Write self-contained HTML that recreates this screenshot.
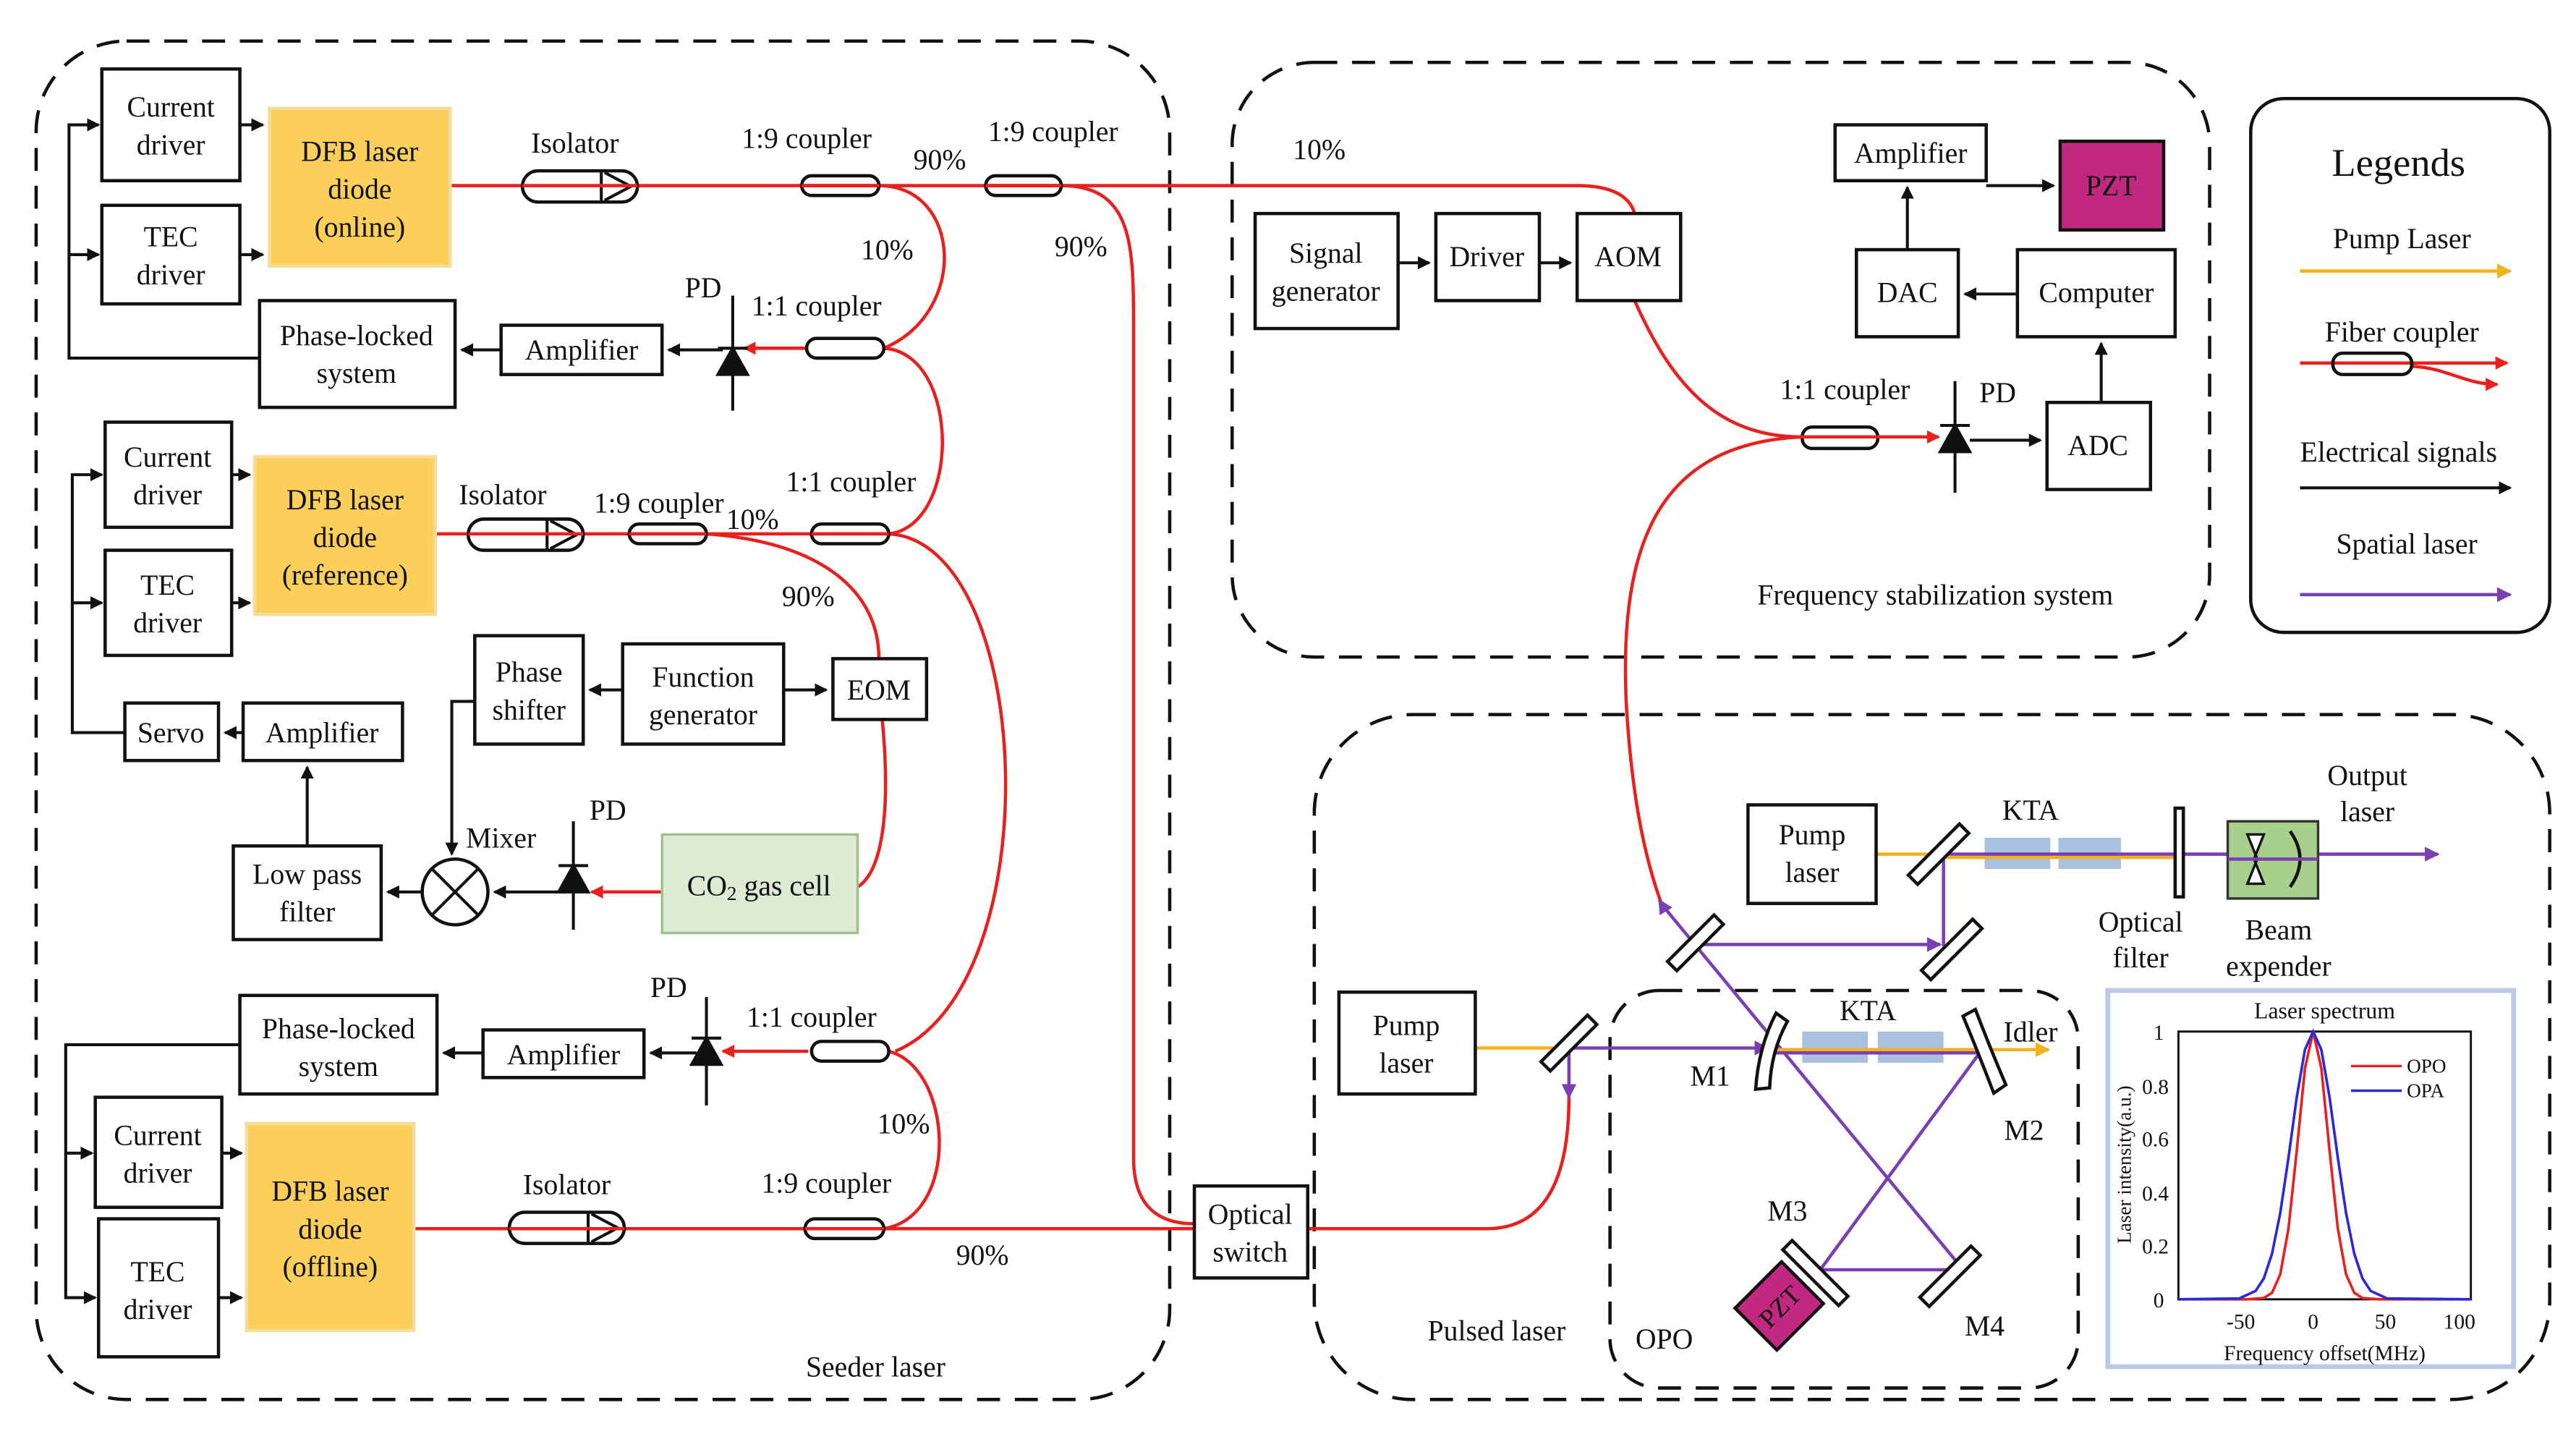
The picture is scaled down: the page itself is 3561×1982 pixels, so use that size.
<!DOCTYPE html>
<html><head><meta charset="utf-8"><style>
html,body{margin:0;padding:0;background:#fff}
svg{display:block}
text{font-family:"Liberation Serif",serif;font-size:17.5px;fill:#111}
.b{fill:#fff;stroke:#111;stroke-width:2}
.d{fill:none;stroke:#111;stroke-width:2;stroke-dasharray:14 9}
.r{fill:none;stroke:#e8211f;stroke-width:2}
.k{fill:none;stroke:#111;stroke-width:1.8}
.p{fill:none;stroke:#7a3fb0;stroke-width:2}
.y{fill:none;stroke:#f2b21b;stroke-width:2}
.cp{fill:#fff;stroke:#111;stroke-width:2}
.m{fill:#fff;stroke:#111;stroke-width:2}
.kta{fill:#a9c0de}
</style></head><body>
<svg width="3561" height="1982" viewBox="0 0 1568 873" preserveAspectRatio="none" xmlns="http://www.w3.org/2000/svg">
<defs>
<marker id="ak" markerWidth="8" markerHeight="8" refX="7" refY="4" orient="auto" markerUnits="userSpaceOnUse"><path d="M0,0 L8,4 L0,8z" fill="#111"/></marker>
<marker id="ar" markerWidth="8" markerHeight="8" refX="7" refY="4" orient="auto" markerUnits="userSpaceOnUse"><path d="M0,0 L8,4 L0,8z" fill="#e8211f"/></marker>
<marker id="ap" markerWidth="9" markerHeight="9" refX="8" refY="4.5" orient="auto" markerUnits="userSpaceOnUse"><path d="M0,0 L9,4.5 L0,9z" fill="#7a3fb0"/></marker>
<marker id="ay" markerWidth="9" markerHeight="9" refX="8" refY="4.5" orient="auto" markerUnits="userSpaceOnUse"><path d="M0,0 L9,4.5 L0,9z" fill="#f2b21b"/></marker>
</defs>
<rect width="1568" height="873" fill="#fff"/>

<rect class="d" x="22" y="25" width="690" height="827" rx="55"/>
<rect class="d" x="750" y="38" width="595" height="362" rx="50"/>
<rect class="d" x="800" y="435" width="752" height="417" rx="60"/>
<rect class="d" x="980" y="603" width="285" height="242" rx="30"/>
<rect x="1370" y="60" width="182" height="325" rx="20" fill="#fff" stroke="#111" stroke-width="2"/>

<path class="r" d="M274 113 H960 Q990 113 995 130"/>
<path class="r" d="M535 113 C585 113 590 190 538 212"/>
<path class="r" d="M538 212 C585 215 585 320 541 325"/>
<path class="r" d="M646 113 C690 113 690 150 690 200 V705 Q690 745 727 745"/>
<path class="r" d="M265 325 H541"/>
<path class="r" d="M430 325 C500 330 535 360 535 401"/>
<path class="r" d="M537 438 C542 490 538 530 522 540"/>
<path class="r" d="M541 325 C630 330 640 600 545 640"/>
<path class="r" d="M538 748 C585 740 580 650 541 640"/>
<path class="r" d="M252 748 H727"/>
<path class="r" d="M492 212 H453" marker-end="url(#ar)"/>
<path class="r" d="M492 640 H440" marker-end="url(#ar)"/>
<path class="r" d="M403 543 H360" marker-end="url(#ar)"/>
<path class="r" d="M796 748 H905 Q955 748 955 668"/>

<g>
<rect class="cp" x="318" y="104" width="70" height="19" rx="9.5" fill="none"/><path d="M366 104 V123 M368 105 L384 113.5 L368 122" class="k"/>
<rect class="cp" x="285" y="316" width="70" height="19" rx="9.5" fill="none"/><path d="M333 316 V335 M335 317 L351 325.5 L335 334" class="k"/>
<rect class="cp" x="310" y="738" width="70" height="19" rx="9.5" fill="none"/><path d="M358 738 V757 M360 739 L376 747.5 L360 756" class="k"/>
</g>
<g fill="none" stroke="#111" stroke-width="2">
<rect x="488" y="107" width="47" height="12" rx="6"/>
<rect x="600" y="107" width="46" height="12" rx="6"/>
<rect x="491" y="206" width="47" height="12" rx="6"/>
<rect x="383" y="319" width="47" height="12" rx="6"/>
<rect x="494" y="319" width="47" height="12" rx="6"/>
<rect x="494" y="634" width="47" height="12" rx="6"/>
<rect x="490" y="742" width="48" height="12" rx="6"/>
<rect x="1097" y="260" width="46" height="13" rx="6"/>
</g>
<path class="r" d="M318 113 H388 M488 113 H535 M600 113 H646 M285 325 H355 M383 325 H430 M494 325 H541 M310 748 H380 M490 748 H538"/>

<g stroke="#111" stroke-width="1.8">
<path d="M446 180 V250 M437 212 H455"/><path d="M437 228 L455 228 L446 212z" fill="#111"/>
<path d="M349 500 V566 M340 527 H358"/><path d="M340 543 L358 543 L349 527z" fill="#111"/>
<path d="M430 607 V673 M421 632 H439"/><path d="M421 648 L439 648 L430 632z" fill="#111"/>
<path d="M1190 232 V300 M1181 259 H1199"/><path d="M1181 275 L1199 275 L1190 259z" fill="#111"/>
</g>

<g>
<rect class="b" x="62" y="42" width="84" height="68"/><text x="104" y="71" text-anchor="middle">Current</text><text x="104" y="94" text-anchor="middle">driver</text>
<rect class="b" x="62" y="125" width="84" height="60"/><text x="104" y="150" text-anchor="middle">TEC</text><text x="104" y="173" text-anchor="middle">driver</text>
<rect x="164" y="66" width="110" height="96" fill="#fbcf5a" stroke="#f4dc9a" stroke-width="2"/><text x="219" y="98" text-anchor="middle">DFB laser</text><text x="219" y="121" text-anchor="middle">diode</text><text x="219" y="144" text-anchor="middle">(online)</text>
<rect class="b" x="158" y="183" width="119" height="65"/><text x="217" y="210" text-anchor="middle">Phase-locked</text><text x="217" y="233" text-anchor="middle">system</text>
<rect class="b" x="305" y="198" width="98" height="30"/><text x="354" y="219" text-anchor="middle">Amplifier</text>

<rect class="b" x="64" y="257" width="77" height="64"/><text x="102" y="284" text-anchor="middle">Current</text><text x="102" y="307" text-anchor="middle">driver</text>
<rect class="b" x="64" y="335" width="77" height="64"/><text x="102" y="362" text-anchor="middle">TEC</text><text x="102" y="385" text-anchor="middle">driver</text>
<rect x="155" y="278" width="110" height="96" fill="#fbcf5a" stroke="#f4dc9a" stroke-width="2"/><text x="210" y="310" text-anchor="middle">DFB laser</text><text x="210" y="333" text-anchor="middle">diode</text><text x="210" y="356" text-anchor="middle">(reference)</text>
<rect class="b" x="76" y="428" width="57" height="35"/><text x="104" y="452" text-anchor="middle">Servo</text>
<rect class="b" x="148" y="428" width="97" height="35"/><text x="196" y="452" text-anchor="middle">Amplifier</text>
<rect class="b" x="289" y="387" width="66" height="66"/><text x="322" y="415" text-anchor="middle">Phase</text><text x="322" y="438" text-anchor="middle">shifter</text>
<rect class="b" x="379" y="392" width="98" height="61"/><text x="428" y="418" text-anchor="middle">Function</text><text x="428" y="441" text-anchor="middle">generator</text>
<rect class="b" x="507" y="401" width="57" height="37"/><text x="535" y="426" text-anchor="middle">EOM</text>
<rect class="b" x="142" y="515" width="90" height="57"/><text x="187" y="538" text-anchor="middle">Low pass</text><text x="187" y="561" text-anchor="middle">filter</text>
<circle cx="277" cy="543" r="20" class="b"/><path d="M263 529 L291 557 M291 529 L263 557" class="k"/>
<rect x="403" y="508" width="119" height="60" fill="#dcebd3" stroke="#9fc08c" stroke-width="1.5"/><text x="462" y="545" text-anchor="middle">CO<tspan style="font-size:12px" dy="3">2</tspan><tspan dy="-3"> gas cell</tspan></text>

<rect class="b" x="146" y="606" width="120" height="60"/><text x="206" y="632" text-anchor="middle">Phase-locked</text><text x="206" y="655" text-anchor="middle">system</text>
<rect class="b" x="294" y="627" width="98" height="29"/><text x="343" y="648" text-anchor="middle">Amplifier</text>
<rect class="b" x="58" y="668" width="77" height="67"/><text x="96" y="697" text-anchor="middle">Current</text><text x="96" y="720" text-anchor="middle">driver</text>
<rect class="b" x="60" y="742" width="73" height="84"/><text x="96" y="780" text-anchor="middle">TEC</text><text x="96" y="803" text-anchor="middle">driver</text>
<rect x="150" y="684" width="102" height="126" fill="#fbcf5a" stroke="#f4dc9a" stroke-width="2"/><text x="201" y="731" text-anchor="middle">DFB laser</text><text x="201" y="754" text-anchor="middle">diode</text><text x="201" y="777" text-anchor="middle">(offline)</text>
<rect class="b" x="727" y="722" width="69" height="56"/><text x="761" y="745" text-anchor="middle">Optical</text><text x="761" y="768" text-anchor="middle">switch</text>
</g>

<g class="k">
<path d="M146 76 H160" marker-end="url(#ak)"/><path d="M146 155 H160" marker-end="url(#ak)"/>
<path d="M158 218 H42 V76 H60" marker-end="url(#ak)"/><path d="M42 155 H60" marker-end="url(#ak)"/>
<path d="M305 213 H281" marker-end="url(#ak)"/><path d="M440 213 H407" marker-end="url(#ak)"/>
<path d="M141 289 H152" marker-end="url(#ak)"/><path d="M141 367 H152" marker-end="url(#ak)"/>
<path d="M76 446 H44 V289 H62" marker-end="url(#ak)"/><path d="M44 367 H62" marker-end="url(#ak)"/>
<path d="M148 446 H137" marker-end="url(#ak)"/>
<path d="M187 515 V467" marker-end="url(#ak)"/>
<path d="M379 420 H359" marker-end="url(#ak)"/><path d="M477 420 H503" marker-end="url(#ak)"/>
<path d="M289 427 H275 V520" marker-end="url(#ak)"/>
<path d="M344 543 H301" marker-end="url(#ak)"/><path d="M257 543 H236" marker-end="url(#ak)"/>
<path d="M294 641 H270" marker-end="url(#ak)"/><path d="M424 641 H396" marker-end="url(#ak)"/>
<path d="M146 636 H40 V702 H56" marker-end="url(#ak)"/><path d="M40 702 V790 H58" marker-end="url(#ak)"/>
<path d="M135 702 H147" marker-end="url(#ak)"/><path d="M133 790 H147" marker-end="url(#ak)"/>
</g>

<g>
<text x="350" y="93" text-anchor="middle">Isolator</text>
<text x="491" y="90" text-anchor="middle">1:9 coupler</text>
<text x="641" y="86" text-anchor="middle">1:9 coupler</text>
<text x="572" y="103" text-anchor="middle">90%</text>
<text x="540" y="158" text-anchor="middle">10%</text>
<text x="658" y="156" text-anchor="middle">90%</text>
<text x="803" y="97" text-anchor="middle">10%</text>
<text x="428" y="181" text-anchor="middle">PD</text>
<text x="497" y="192" text-anchor="middle">1:1 coupler</text>
<text x="306" y="307" text-anchor="middle">Isolator</text>
<text x="401" y="312" text-anchor="middle">1:9 coupler</text>
<text x="458" y="322" text-anchor="middle">10%</text>
<text x="518" y="299" text-anchor="middle">1:1 coupler</text>
<text x="492" y="369" text-anchor="middle">90%</text>
<text x="305" y="516" text-anchor="middle">Mixer</text>
<text x="370" y="499" text-anchor="middle">PD</text>
<text x="407" y="607" text-anchor="middle">PD</text>
<text x="494" y="625" text-anchor="middle">1:1 coupler</text>
<text x="550" y="690" text-anchor="middle">10%</text>
<text x="345" y="727" text-anchor="middle">Isolator</text>
<text x="503" y="726" text-anchor="middle">1:9 coupler</text>
<text x="598" y="770" text-anchor="middle">90%</text>
<text x="533" y="838" text-anchor="middle">Seeder laser</text>
</g>

<path class="r" d="M995 183 C1020 240 1050 266 1097 266"/>
<path class="r" d="M1097 266 C1010 270 985 330 990 430 C993 480 1000 520 1012 552"/>
<path class="r" d="M1097 266 H1143 M1143 266 H1180" marker-end="url(#ar)"/>
<g>
<rect class="b" x="764" y="130" width="87" height="70"/><text x="807" y="160" text-anchor="middle">Signal</text><text x="807" y="183" text-anchor="middle">generator</text>
<rect class="b" x="874" y="130" width="63" height="53"/><text x="905" y="162" text-anchor="middle">Driver</text>
<rect class="b" x="960" y="130" width="63" height="53"/><text x="991" y="162" text-anchor="middle">AOM</text>
<rect class="b" x="1117" y="76" width="92" height="34"/><text x="1163" y="99" text-anchor="middle">Amplifier</text>
<rect x="1254" y="86" width="63" height="54" fill="#c1287f" stroke="#111" stroke-width="2"/><text x="1285" y="119" text-anchor="middle">PZT</text>
<rect class="b" x="1130" y="152" width="62" height="53"/><text x="1161" y="184" text-anchor="middle">DAC</text>
<rect class="b" x="1228" y="152" width="96" height="53"/><text x="1276" y="184" text-anchor="middle">Computer</text>
<rect class="b" x="1246" y="245" width="63" height="53"/><text x="1277" y="277" text-anchor="middle">ADC</text>
</g>
<g class="k">
<path d="M851 160 H870" marker-end="url(#ak)"/><path d="M937 160 H956" marker-end="url(#ak)"/>
<path d="M1209 113 H1250" marker-end="url(#ak)"/>
<path d="M1161 152 V114" marker-end="url(#ak)"/>
<path d="M1228 179 H1196" marker-end="url(#ak)"/>
<path d="M1279 245 V209" marker-end="url(#ak)"/>
<path d="M1199 268 H1242" marker-end="url(#ak)"/>
</g>
<text x="1123" y="243" text-anchor="middle">1:1 coupler</text>
<text x="1216" y="245" text-anchor="middle">PD</text>
<text x="1178" y="368" text-anchor="middle">Frequency stabilization system</text>

<text x="1460" y="107" text-anchor="middle" style="font-size:24px">Legends</text>
<text x="1462" y="151" text-anchor="middle">Pump Laser</text>
<path class="y" d="M1400 165 H1528" marker-end="url(#ay)"/>
<text x="1462" y="208" text-anchor="middle">Fiber coupler</text>
<path class="r" d="M1400 221 H1526" marker-end="url(#ar)"/>
<path class="r" d="M1468 223 C1490 224 1500 234 1520 234" marker-end="url(#ar)"/>
<rect x="1420" y="215" width="48" height="13" rx="6" fill="none" stroke="#111" stroke-width="2"/>
<text x="1460" y="281" text-anchor="middle">Electrical signals</text>
<path class="k" d="M1400 297 H1528" marker-end="url(#ak)"/>
<text x="1465" y="337" text-anchor="middle">Spatial laser</text>
<path class="p" d="M1400 362 H1528" marker-end="url(#ap)"/>

<rect class="kta" x="1208" y="510" width="40" height="19"/><rect class="kta" x="1253" y="510" width="38" height="19"/>
<rect class="kta" x="1097" y="628" width="40" height="19"/><rect class="kta" x="1143" y="628" width="40" height="19"/>
<path class="y" d="M1142 520 H1182"/>
<path class="p" d="M1183 520 H1484" marker-end="url(#ap)"/>
<path class="y" d="M1183 522 H1330"/>
<path class="p" d="M1183 520 V576"/>
<path class="p" d="M1032 575 H1181" marker-end="url(#ap)"/>
<path class="p" d="M1011 550 L1195 773"/>
<path class="p" d="M1013 553 L1010 548" marker-end="url(#ap)"/>
<path class="y" d="M898 638 H952"/>
<path class="p" d="M955 638 H1076" marker-end="url(#ap)"/>
<path class="y" d="M1080 639 H1247" marker-end="url(#ay)"/>
<path class="p" d="M1080 641 H1205 L1108 773 H1195"/>
<path class="p" d="M955 638 V668" marker-end="url(#ap)"/>
<g class="m">
<rect x="-4" y="-22" width="8" height="44" transform="translate(1180,520) rotate(45)"/>
<rect x="-4" y="-22" width="8" height="44" transform="translate(1188,578) rotate(45)"/>
<rect x="-4" y="-20" width="8" height="40" transform="translate(1032,574) rotate(45)"/>
<rect x="-4" y="-20" width="8" height="40" transform="translate(955,635) rotate(45)"/>
<path d="M1075 617 L1083 620 Q1078 640 1083 662 L1075 665 Q1070 640 1075 617z" transform="rotate(15,1079,640)"/>
<path d="M1198 617 L1206 614 Q1212 640 1218 662 L1210 666 Q1204 640 1198 617z" transform="rotate(-8,1208,640)"/>
<rect x="-4" y="-24" width="8" height="48" transform="translate(1105,775) rotate(-45)"/>
<rect x="-4" y="-22" width="8" height="44" transform="translate(1187,777) rotate(45)"/>
<rect x="1324" y="492" width="5" height="54" fill="#fff"/>
</g>
<rect x="-20" y="-18" width="40" height="36" fill="#c1287f" stroke="#111" stroke-width="2" transform="translate(1083,795) rotate(-45)"/>
<text x="1083" y="801" text-anchor="middle" transform="rotate(-45,1083,795)" style="font-size:16px">PZT</text>
<rect x="1356" y="500" width="55" height="47" fill="#a8d08d" stroke="#333" stroke-width="1.5"/>
<path d="M1368 508 L1378 508 L1372 523 L1378 538 L1368 538 L1374 523z" fill="#fff" stroke="#111" stroke-width="1.5"/>
<path d="M1394 506 Q1406 523 1394 540" fill="none" stroke="#111" stroke-width="2"/>
<path class="p" d="M1356 523 H1411"/>
<g>
<rect class="b" x="1064" y="490" width="78" height="60"/><text x="1103" y="514" text-anchor="middle">Pump</text><text x="1103" y="537" text-anchor="middle">laser</text>
<rect class="b" x="815" y="604" width="83" height="62"/><text x="856" y="630" text-anchor="middle">Pump</text><text x="856" y="653" text-anchor="middle">laser</text>
</g>
<g>
<text x="1236" y="499" text-anchor="middle">KTA</text>
<text x="1137" y="621" text-anchor="middle">KTA</text>
<text x="1441" y="478" text-anchor="middle">Output</text><text x="1441" y="500" text-anchor="middle">laser</text>
<text x="1303" y="567" text-anchor="middle">Optical</text><text x="1303" y="589" text-anchor="middle">filter</text>
<text x="1387" y="572" text-anchor="middle">Beam</text><text x="1387" y="594" text-anchor="middle">expender</text>
<text x="1236" y="634" text-anchor="middle">Idler</text>
<text x="1041" y="661" text-anchor="middle">M1</text>
<text x="1232" y="694" text-anchor="middle">M2</text>
<text x="1088" y="743" text-anchor="middle">M3</text>
<text x="1208" y="813" text-anchor="middle">M4</text>
<text x="911" y="816" text-anchor="middle">Pulsed laser</text>
<text x="1013" y="821" text-anchor="middle">OPO</text>
</g>

<rect x="1283" y="603" width="247" height="229" fill="#fff" stroke="#b9cbe8" stroke-width="3"/>
<text x="1415" y="620" text-anchor="middle" style="font-size:14px">Laser spectrum</text>
<rect x="1326" y="628" width="178" height="163" fill="none" stroke="#111" stroke-width="1.3"/>
<g>
<text x="1314" y="633" text-anchor="middle" style="font-size:13px">1</text>
<text x="1312" y="666" text-anchor="middle" style="font-size:13px">0.8</text>
<text x="1312" y="698" text-anchor="middle" style="font-size:13px">0.6</text>
<text x="1312" y="731" text-anchor="middle" style="font-size:13px">0.4</text>
<text x="1312" y="763" text-anchor="middle" style="font-size:13px">0.2</text>
<text x="1314" y="796" text-anchor="middle" style="font-size:13px">0</text>
<text x="1364" y="809" text-anchor="middle" style="font-size:13px">-50</text>
<text x="1408" y="809" text-anchor="middle" style="font-size:13px">0</text>
<text x="1452" y="809" text-anchor="middle" style="font-size:13px">50</text>
<text x="1497" y="809" text-anchor="middle" style="font-size:13px">100</text>
<text x="1415" y="828" text-anchor="middle" style="font-size:13px">Frequency offset(MHz)</text>
<text x="1297" y="709" text-anchor="middle" style="font-size:12px" transform="rotate(-90,1297,709)">Laser intensity(a.u.)</text>
<text x="1465" y="653" style="font-size:12px">OPO</text>
<text x="1465" y="668" style="font-size:12px">OPA</text>
</g>
<path d="M1431 649 H1462" stroke="#e8211f" stroke-width="1.5"/>
<path d="M1431 664 H1462" stroke="#2a2ad8" stroke-width="1.5"/>
<polyline fill="none" stroke="#e8211f" stroke-width="1.6" points="1326,791 1368,791 1378,790.2 1383,787 1388,775.7 1393,747.8 1398,700.7 1403,650.4 1408,628 1413,650.4 1418,700.7 1423,747.8 1428,775.7 1433,787 1438,790.2 1448,791 1504,791"/>
<polyline fill="none" stroke="#2a2ad8" stroke-width="1.6" points="1326,791 1363,790.5 1373,785.9 1378,778.2 1383,763.1 1388,738.3 1393,704.7 1398,668.1 1403,639 1408,628 1413,639 1418,668.1 1423,704.7 1428,738.3 1433,763.1 1438,778.2 1443,785.9 1453,790.5 1504,791"/>
</svg>
</body></html>
